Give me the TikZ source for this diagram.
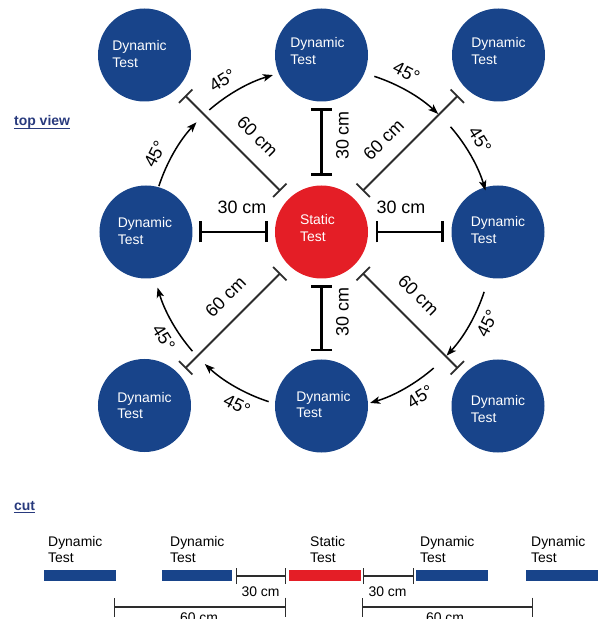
\documentclass[tikz,border=0pt]{standalone}
\usepackage{fontspec}
\setmainfont{Liberation Sans}
\usetikzlibrary{arrows.meta}
\definecolor{dblue}{RGB}{24,68,138}
\definecolor{sred}{RGB}{228,30,38}
\definecolor{navy}{RGB}{40,58,125}
\definecolor{dimgray}{RGB}{45,45,45}
\begin{document}
\begin{tikzpicture}[x=1bp,y=1bp,
  dyn/.style={circle, fill=dblue, minimum size=93bp, inner sep=0pt},
  stat/.style={circle, fill=sred, minimum size=93bp, inner sep=0pt},
  ctext/.style={text=white, font=\fontsize{14}{16.5}\selectfont, align=left, inner sep=0pt},
  bar30/.style={line width=2.8bp, {Bar[width=21bp]}-{Bar[width=21bp]}},
  bar60/.style={line width=1.8bp, dimgray, {Bar[width=19bp]}-{Bar[width=19bp]}},
  lbl/.style={font=\fontsize{18}{20}\selectfont, inner sep=0pt},
  arr/.style={line width=1.5bp, -{Stealth[length=10bp,width=7.5bp,inset=2.5bp]}},
  hdr/.style={font=\bfseries\fontsize{14}{16}\selectfont, text=navy, anchor=base west, inner sep=0pt},
  cutbar/.style={rectangle, minimum height=11bp, inner sep=0pt, anchor=west},
  cuttext/.style={font=\fontsize{14}{16.5}\selectfont, align=left, inner sep=0pt, anchor=south west},
  dim30/.style={line width=1.3bp, dimgray, {Bar[width=16bp]}-{Bar[width=16bp]}},
  dim60/.style={line width=1.3bp, dimgray, {Bar[width=19bp]}-{Bar[width=19bp]}},
  dimlbl/.style={font=\fontsize{14}{16}\selectfont, inner sep=0pt}
]
\useasboundingbox (-321.5,-387) rectangle (278.5,232);

% ---------- top view ----------
\node[hdr] (tv) at (-307.5,106) {top view};
\draw[navy, line width=1.2bp] ([yshift=-2.6bp]tv.base west) -- ([yshift=-2.6bp]tv.base east);

% circles
\node[dyn] (TL) at (-177,177) {};
\node[dyn] (TM) at (0,177) {};
\node[dyn] (TR) at (177,177) {};
\node[dyn] (ML) at (-175.5,0) {};
\node[stat] (S) at (0,0) {};
\node[dyn] (MR) at (176.5,0) {};
\node[dyn] (BL) at (-177,-173.5) {};
\node[dyn] (BM) at (0,-174) {};
\node[dyn] (BR) at (176.5,-174) {};

\node[ctext] (TLt) at ([shift={(-5,1)}]TL.center) {Dynamic\\Test};
\node[ctext] (TMt) at ([shift={(-4,4)}]TM.center) {Dynamic\\Test};
\node[ctext] (TRt) at ([shift={(0,4)}]TR.center) {Dynamic\\Test};
\node[ctext] (MLt) at ([shift={(-1,1)}]ML.center) {Dynamic\\Test};
\node[ctext] (St) at ([shift={(-4,4)}]S.center) {Static\\Test};
\node[ctext] (MRt) at ([shift={(0,2)}]MR.center) {Dynamic\\Test};
\node[ctext] (BLt) at ([shift={(0,0)}]BL.center) {Dynamic\\Test};
\node[ctext] (BMt) at ([shift={(2,1.5)}]BM.center) {Dynamic\\Test};
\node[ctext] (BRt) at ([shift={(0,-3)}]BR.center) {Dynamic\\Test};

% 30 cm bars
\coordinate (l30a) at (180:122); \coordinate (l30b) at (180:54);
\coordinate (r30a) at (0:54);    \coordinate (r30b) at (0:122.5);
\coordinate (t30a) at (90:56);   \coordinate (t30b) at (90:124);
\coordinate (b30a) at (-90:53);  \coordinate (b30b) at (-90:119.5);
\draw[bar30] (l30a) -- (l30b);
\draw[bar30] (r30a) -- (r30b);
\draw[bar30] (t30a) -- (t30b);
\draw[bar30] (b30a) -- (b30b);
\node[lbl] (l30) at (-79.5,24.5) {30 cm};
\node[lbl] (r30) at (79.5,24.5) {30 cm};
\node[lbl, rotate=90] (t30) at (21,96.5) {30 cm};
\node[lbl, rotate=90] (b30) at (21,-80) {30 cm};

% 60 cm diagonals
\foreach \a in {45,135,225,315}{
  \coordinate (d\a a) at (\a:58);
  \coordinate (d\a b) at (\a:193);
  \draw[bar60] (d\a a) -- (d\a b);
}
\node[lbl, rotate=-45] (nw60) at (-64,95.5) {60 cm};
\node[lbl, rotate=45]  (ne60) at (62,92.5) {60 cm};
\node[lbl, rotate=45]  (sw60) at (-96,-64.5) {60 cm};
\node[lbl, rotate=-45] (se60) at (97,-63) {60 cm};

% 45 degree arcs
\coordinate (ac) at (0,-7);
\foreach \A in {180,90,0,-90}{
  \draw[arr] ([shift={(0,-7)}]\A-18:171) arc[start angle=\A-18, end angle=\A-43, radius=171];
  \draw[arr] ([shift={(0,-7)}]\A-49:171) arc[start angle=\A-49, end angle=\A-73.5, radius=171];
}
\foreach \A in {180,90}{
  \node[lbl, rotate=\A-27-90] at ([shift={(0,-7)}]\A-27:187) {45°};
  \node[lbl, rotate=\A-58-90] at ([shift={(0,-7)}]\A-58:187) {45°};
}
\foreach \A in {0,-90}{
  \node[lbl, rotate=\A-27+90] at ([shift={(0,-7)}]\A-27:186) {45°};
  \node[lbl, rotate=\A-58+90] at ([shift={(0,-7)}]\A-58:186) {45°};
}

% ---------- cut ----------
\node[hdr] (cut) at (-307.5,-278.5) {cut};
\draw[navy, line width=1.2bp] ([yshift=-2.2bp]cut.base west) -- ([yshift=-2.2bp]cut.base east);

\node[cutbar, fill=dblue, minimum width=72bp] (c1) at (-277.5,-343.5) {};
\node[cutbar, fill=dblue, minimum width=70bp] (c2) at (-159.5,-343.5) {};
\node[cutbar, fill=sred,  minimum width=72bp] (c3) at (-32.5,-343.5) {};
\node[cutbar, fill=dblue, minimum width=72bp] (c4) at (94.5,-343.5) {};
\node[cutbar, fill=dblue, minimum width=72bp] (c5) at (204.5,-343.5) {};

\node[cuttext] (c1t) at (-273.5,-331) {Dynamic\\Test};
\node[cuttext] (c2t) at (-151.5,-331) {Dynamic\\Test};
\node[cuttext] (c3t) at (-11.5,-331) {Static\\Test};
\node[cuttext] (c4t) at (98.5,-331) {Dynamic\\Test};
\node[cuttext] (c5t) at (209.5,-331) {Dynamic\\Test};

\coordinate (k1a) at (-85.5,-344); \coordinate (k1b) at (-35.5,-344);
\coordinate (k2a) at (41.5,-344);  \coordinate (k2b) at (92.5,-344);
\coordinate (k3a) at (-207.5,-375); \coordinate (k3b) at (-35.5,-375);
\coordinate (k4a) at (40.5,-375);  \coordinate (k4b) at (211.5,-375);
\draw[dim30] (k1a) -- (k1b);
\draw[dim30] (k2a) -- (k2b);
\draw[dim60] (k3a) -- (k3b);
\draw[dim60] (k4a) -- (k4b);
\node[dimlbl] (k1l) at (-61,-359.5) {30 cm};
\node[dimlbl] (k2l) at (66,-359.5) {30 cm};
\node[dimlbl] (k3l) at (-122.5,-385.5) {60 cm};
\node[dimlbl] (k4l) at (123.5,-385.5) {60 cm};
\end{tikzpicture}
\end{document}
